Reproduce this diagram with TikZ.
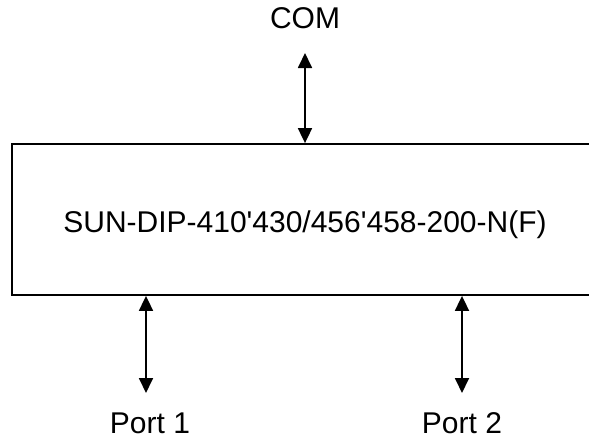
\documentclass[tikz,border=0pt]{standalone}
\usepackage{fontspec}
\setmainfont{Liberation Sans}[Ligatures=TeXOff]
\usetikzlibrary{arrows.meta}
\begin{document}
\begin{tikzpicture}[x=1pt,y=-1pt,
  lbl/.style={font=\fontsize{30}{36}\selectfont, inner sep=0pt, anchor=base},
  boxstyle/.style={draw, line width=1.8pt, minimum width=600pt, minimum height=151pt, inner sep=0pt},
  dblarr/.style={line width=1.8pt, {Triangle[length=15pt,width=14pt]}-{Triangle[length=15pt,width=14pt]}}]
\useasboundingbox (0,0) rectangle (589,440);
\node[boxstyle] (box) at (312,219.5) {};
\node[lbl] (main) at (305,232) {SUN-DIP-410'430/456'458-200-N(F)};
\node[lbl] (com) at (305,28) {COM};
\node[lbl] (p1) at (150,433) {Port 1};
\node[lbl] (p2) at (462,433) {Port 2};
\coordinate (comend) at (305,53);
\coordinate (p1end) at (146,393);
\coordinate (p2end) at (462,393);
\draw[dblarr] (comend) -- (comend |- box.north);
\draw[dblarr] (p1end |- box.south) -- (p1end);
\draw[dblarr] (p2end |- box.south) -- (p2end);
\end{tikzpicture}
\end{document}
